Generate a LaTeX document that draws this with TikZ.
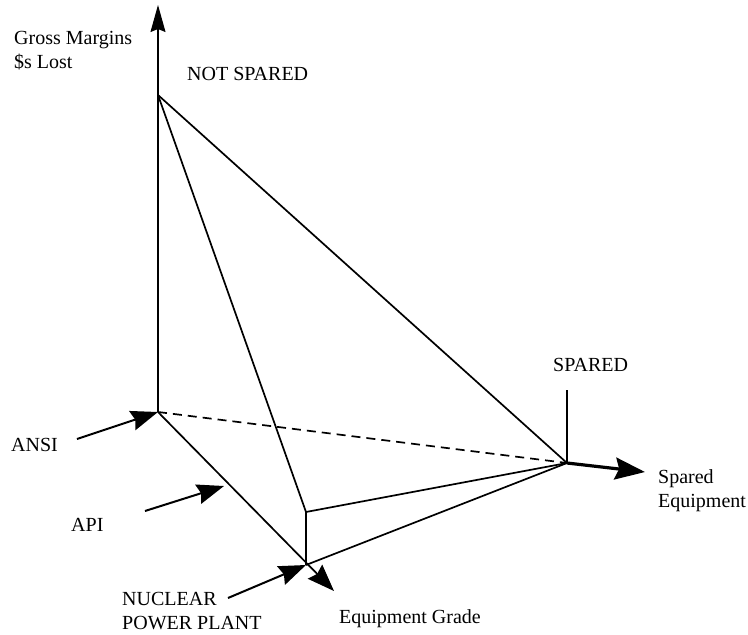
\documentclass[tikz,border=0pt]{standalone}
\usepackage{fontspec}
\setmainfont{Liberation Serif}
\usetikzlibrary{arrows.meta}
\begin{document}
\begin{tikzpicture}[x=1pt,y=-1pt,
  lbl/.style={font=\fontsize{20}{24}\selectfont,inner sep=0pt,align=left},
  edge/.style={line width=1.7pt},
  thinedge/.style={line width=1.1pt},
  bigtip/.style={-{Stealth[length=27pt,width=20pt,inset=3pt]}},
  pointer/.style={line width=2pt,bigtip}]
\useasboundingbox (0,0) rectangle (748,635);
% corner points of the surface
\coordinate (O) at (158,412);
\coordinate (top) at (158,5);
\coordinate (NS) at (158,95);
\coordinate (N) at (306,565);
\coordinate (M) at (306,512);
\coordinate (S) at (567,463);
\coordinate (Stop) at (567,390);
\coordinate (Etip) at (334,591);
\coordinate (Sptip) at (645,472);
% axes
\draw[thinedge,-{Stealth[length=27pt,width=15pt,inset=3pt]}] (O) -- (top);
\draw[edge,bigtip] (O) -- (Etip);
\draw[line width=3.2pt,-{Stealth[length=30pt,width=22pt,inset=4pt]}] (S) -- (Sptip);
\draw[thinedge] (S) -- (Stop);
% surface edges
\draw[edge] (NS) -- (M);
\draw[edge] (NS) -- (S);
\draw[thinedge] (M) -- (N);
\draw[edge] (M) -- (S);
\draw[edge] (N) -- (S);
\draw[edge,dashed,dash pattern=on 9pt off 6pt] (O) -- (S);
% labels
\node[lbl,anchor=base west] (gm) at (14,68) {Gross Margins\\\$s Lost};
\node[lbl,anchor=base west] (nsl) at (187,80) {NOT SPARED};
\node[lbl,anchor=base west] (sl) at (553,371) {SPARED};
\node[lbl,anchor=base west] (ansi) at (11,451) {ANSI};
\node[lbl,anchor=base west] (api) at (71,531) {API};
\node[lbl,anchor=base west] (npp) at (122,629) {NUCLEAR\\POWER PLANT};
\node[lbl,anchor=base west] (eg) at (339,623) {Equipment Grade};
\node[lbl,anchor=base west] (se) at (658,507) {Spared\\Equipment};
% pointer arrows
\coordinate (ansiS) at (77,439);
\coordinate (apiS) at (145,511);
\coordinate (apiT) at (224,486);
\coordinate (nucS) at (228,598);
\draw[pointer] (ansiS) -- (O);
\draw[pointer] (apiS) -- (apiT);
\draw[pointer] (nucS) -- (N);
\end{tikzpicture}
\end{document}
